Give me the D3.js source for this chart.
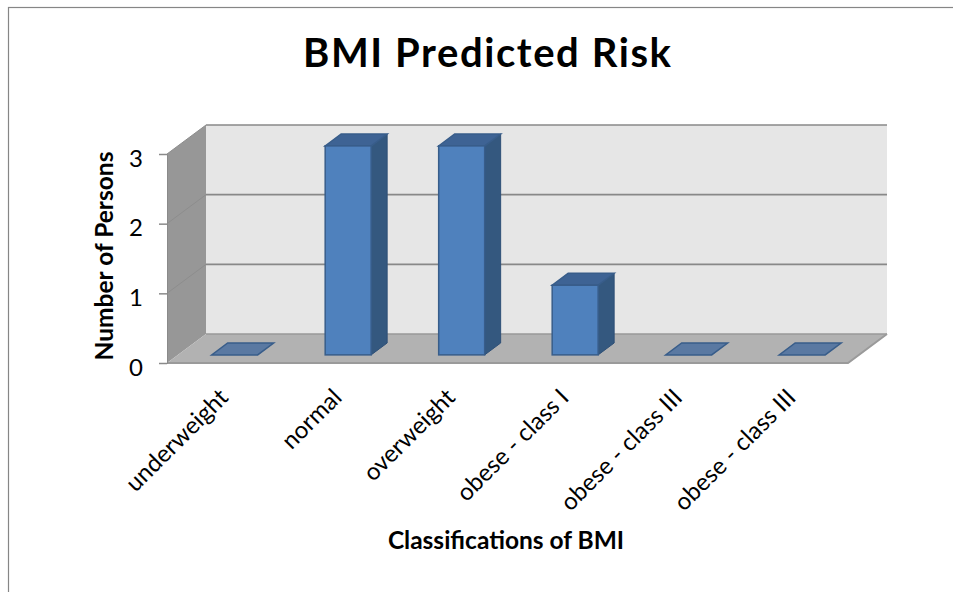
<!DOCTYPE html>
<html>
<head>
<meta charset="utf-8">
<script src="https://cdn.jsdelivr.net/npm/d3@7"></script>
<style>
  body { margin: 0; background: #fff; }
  text { font-family: Lato, "Open Sans", sans-serif; fill: #000; }
</style>
</head>
<body>
<div id="chart"></div>
<script>
// data
var categories = ["underweight", "normal", "overweight", "obese - class I", "obese - class III", "obese - class III"];
var persons = [0, 3, 3, 1, 0, 0];
var yTicks = [0, 1, 2, 3];

var W = 953, H = 592;

// front plane of the 3d box and the depth offset to the back wall
var boxLeft = 167, boxRight = 848, boxBottom = 363, boxTop = 154;
var depthX = 39, depthY = -29;
var barFront = 0.28, barBack = 0.69; // bar position inside the depth

var svg = d3.select("#chart").append("svg")
  .attr("width", W)
  .attr("height", H);

svg.append("rect")
  .attr("x", 8.5).attr("y", 7.5)
  .attr("width", W + 10).attr("height", H + 10)
  .attr("fill", "#fff")
  .attr("stroke", "#868686")
  .attr("stroke-width", 1.2);

var x = d3.scaleBand()
  .domain(d3.range(categories.length))
  .range([boxLeft, boxRight])
  .paddingInner(0.595)
  .paddingOuter(0.2975);

var y = d3.scaleLinear()
  .domain([0, 3])
  .range([boxBottom, boxTop]);

// project a front-plane point back by depth fraction f
function p(px, py, f) {
  return [px + f * depthX, py + f * depthY];
}
function poly(pts) {
  return pts.map(function(d){ return d.join(","); }).join(" ");
}

var walls = svg.append("g").attr("class", "walls");

// back wall
walls.append("polygon")
  .attr("points", poly([p(boxLeft, y(3), 1), p(boxRight, y(3), 1), p(boxRight, y(0), 1), p(boxLeft, y(0), 1)]))
  .attr("fill", "#e6e6e6");

// left wall
walls.append("polygon")
  .attr("points", poly([p(boxLeft, y(3), 0), p(boxLeft, y(3), 1), p(boxLeft, y(0), 1), p(boxLeft, y(0), 0)]))
  .attr("fill", "#979797");

// gridlines: back wall + the faint run over the side wall
yTicks.slice(1).forEach(function(t){
  walls.append("line")
    .attr("x1", p(boxLeft, y(t), 1)[0]).attr("y1", p(boxLeft, y(t), 1)[1])
    .attr("x2", p(boxRight, y(t), 1)[0]).attr("y2", p(boxRight, y(t), 1)[1])
    .attr("stroke", "#888").attr("stroke-width", 1.6);
  walls.append("line")
    .attr("x1", p(boxLeft, y(t), 0)[0]).attr("y1", p(boxLeft, y(t), 0)[1])
    .attr("x2", p(boxLeft, y(t), 1)[0]).attr("y2", p(boxLeft, y(t), 1)[1])
    .attr("stroke", "#8d8d8d").attr("stroke-width", 1);
});

// floor
walls.append("polygon")
  .attr("points", poly([p(boxLeft, y(0), 0), p(boxRight, y(0), 0), p(boxRight, y(0), 1), p(boxLeft, y(0), 1)]))
  .attr("fill", "#b2b2b2");
walls.append("line")
  .attr("x1", p(boxLeft, y(0), 1)[0]).attr("y1", p(boxLeft, y(0), 1)[1])
  .attr("x2", p(boxRight, y(0), 1)[0]).attr("y2", p(boxRight, y(0), 1)[1])
  .attr("stroke", "#999").attr("stroke-width", 1.5);
walls.append("polyline")
  .attr("points", poly([p(boxLeft, y(0), 0), p(boxRight, y(0), 0), p(boxRight, y(0), 1)]))
  .attr("fill", "none")
  .attr("stroke", "#9a9a9a").attr("stroke-width", 2);

// y axis on the front edge of the side wall
var yAxis = svg.append("g")
  .attr("transform", "translate(" + boxLeft + ",0)")
  .call(d3.axisLeft(y).tickValues(yTicks).tickFormat(d3.format("d")).tickSize(8).tickPadding(16));
yAxis.select(".domain").attr("stroke", "#8a8a8a").attr("stroke-width", 1);
yAxis.selectAll(".tick line").attr("stroke", "#8a8a8a").attr("stroke-width", 1.5);
yAxis.selectAll(".tick text")
  .attr("font-size", 24)
  .attr("font-family", "Lato, sans-serif")
  .attr("dy", "0.5em")
  .attr("fill", "#000");

// bars
var bars = svg.append("g").attr("class", "bars")
  .selectAll("g")
  .data(persons)
  .enter().append("g");

bars.each(function(d, i){
  var g = d3.select(this);
  var x0 = x(i), x1 = x(i) + x.bandwidth();
  var yb = y(0), yt = y(d);

  if (d > 0) {
    // right side
    g.append("polygon")
      .attr("points", poly([p(x1, yt, barFront), p(x1, yt, barBack), p(x1, yb, barBack), p(x1, yb, barFront)]))
      .attr("fill", "#34587f")
      .attr("stroke", "#2f5077").attr("stroke-width", 1);
  }
  // top
  g.append("polygon")
    .attr("points", poly([p(x0, yt, barFront), p(x1, yt, barFront), p(x1, yt, barBack), p(x0, yt, barBack)]))
    .attr("fill", d > 0 ? "#3e6394" : "#5a79a2")
    .attr("stroke", "#385d8a").attr("stroke-width", 1.5);
  if (d > 0) {
    // front
    var f0 = p(x0, yt, barFront), f1 = p(x1, yb, barFront);
    g.append("rect")
      .attr("x", f0[0]).attr("y", f0[1])
      .attr("width", f1[0] - f0[0]).attr("height", f1[1] - f0[1])
      .attr("fill", "#4f81bd")
      .attr("stroke", "#385d8a").attr("stroke-width", 1.5);
  }
});

// category labels, rotated
svg.append("g").selectAll("text")
  .data(categories)
  .enter().append("text")
  .attr("transform", function(d, i){
    return "translate(" + (x(i) + x.bandwidth() / 2 + 0) + "," + 393 + ") rotate(-45)";
  })
  .attr("text-anchor", "end")
  .attr("dy", "0.35em")
  .attr("font-size", 24)
  .text(function(d){ return d; });

// titles
svg.append("text")
  .attr("x", 487).attr("y", 67)
  .attr("text-anchor", "middle")
  .attr("font-size", 40)
  .attr("font-weight", "bold")
  .attr("textLength", 368)
  .text("BMI Predicted Risk");

svg.append("text")
  .attr("transform", "translate(113,256) rotate(-90)")
  .attr("text-anchor", "middle")
  .attr("font-size", 24.5)
  .attr("font-weight", "bold")
  .text("Number of Persons");

svg.append("text")
  .attr("x", 506).attr("y", 549)
  .attr("text-anchor", "middle")
  .attr("font-size", 24.5)
  .attr("font-weight", "bold")
  .text("Classifications of BMI");
</script>
</body>
</html>
